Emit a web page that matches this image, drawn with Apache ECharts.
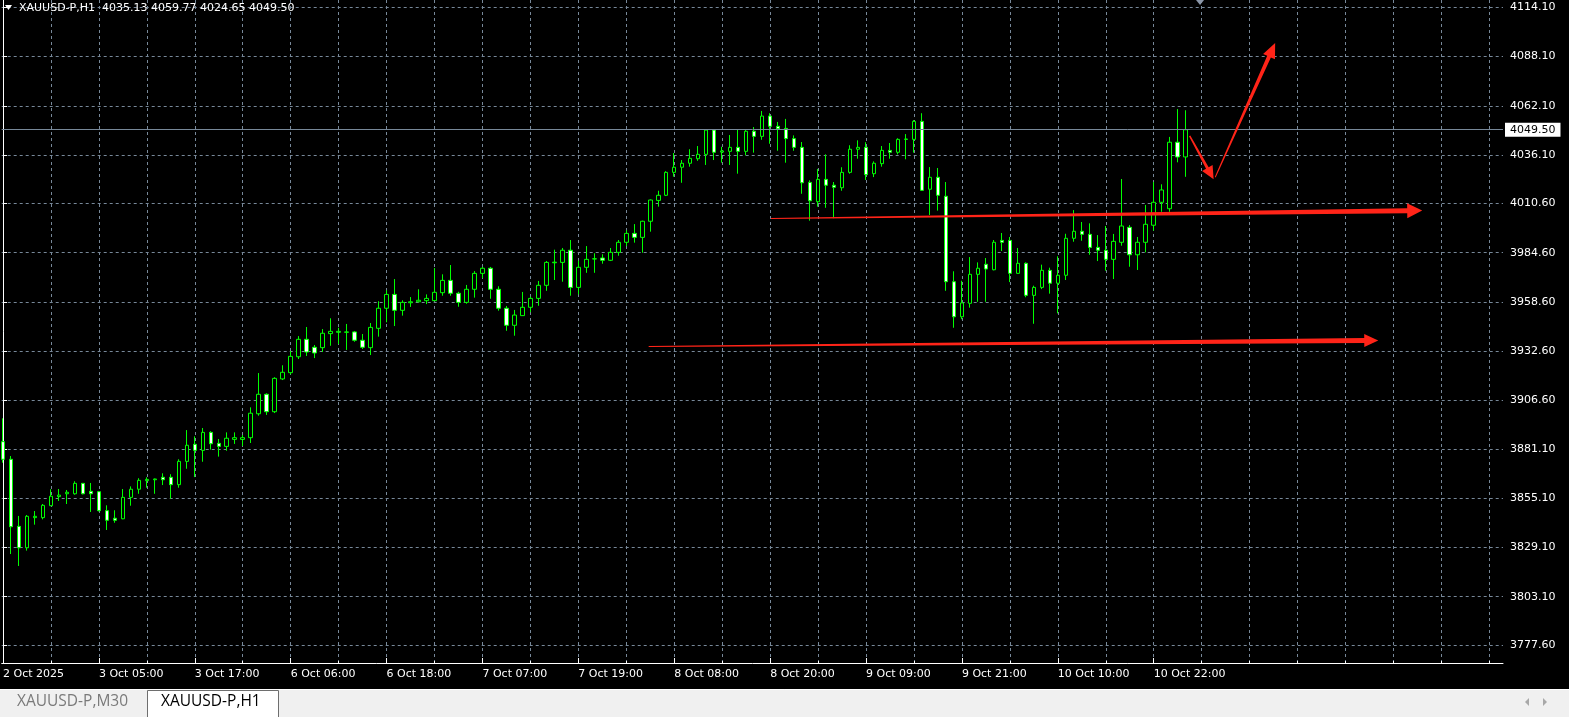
<!DOCTYPE html>
<html><head><meta charset="utf-8">
<script src="https://cdn.jsdelivr.net/npm/echarts@6/dist/echarts.min.js"></script>
<style>html,body{margin:0;padding:0;background:#000;overflow:hidden}#c{width:1569px;height:717px}</style>
</head><body><div id="c"></div><script>
// ---------- data ----------
const symbolTitle = 'XAUUSD-P,H1  4035.13 4059.77 4024.65 4049.50';
const opens = [3884.9,3875.6,3840.2,3828.9,3844.8,3844.8,3851.1,3855.9,3857.4,3857.4,3862.9,3858.7,3858.5,3848.5,3844.5,3844.2,3855.5,3859.8,3864.3,3864.8,3866.1,3866.1,3862.2,3874.5,3883.5,3880.3,3889.8,3884.0,3882.4,3886.1,3886.1,3887.0,3899.6,3909.9,3900.7,3918.0,3921.3,3929.7,3938.9,3934.7,3934.5,3941.9,3942.6,3942.6,3942.8,3938.4,3934.5,3944.7,3955.3,3962.6,3954.2,3958.2,3958.7,3959.3,3959.3,3963.5,3970.0,3963.2,3958.4,3965.3,3973.7,3976.4,3965.3,3955.3,3946.3,3951.4,3955.8,3960.5,3967.4,3979.3,3979.5,3985.9,3966.3,3976.9,3981.3,3981.8,3980.6,3984.8,3990.1,3994.8,3992.7,4001.2,4012.2,4014.9,4027.0,4029.7,4031.8,4034.2,4036.5,4049.3,4037.7,4038.1,4040.2,4038.1,4048.7,4046.0,4056.7,4051.3,4050.2,4044.8,4040.2,4021.7,4011.5,4023.3,4020.2,4018.9,4027.0,4039.2,4040.2,4026.3,4031.6,4038.6,4037.6,4044.4,4044.4,4053.9,4018.1,4024.4,4014.4,3969.3,3950.8,3957.9,3973.2,3978.5,3975.6,3991.1,3991.1,3973.7,3979.0,3962.1,3966.3,3975.3,3968.5,3972.7,3992.2,3995.9,3994.3,3987.4,3985.9,3981.1,3990.1,3998.0,3983.5,3990.1,3999.1,4011.2,4007.8,4042.9,4035.13];
const closes = [3875.6,3840.0,3828.9,3845.5,3845.5,3851.3,3856.1,3856.7,3858.2,3862.9,3857.4,3857.4,3848.5,3843.4,3843.4,3855.5,3859.8,3864.5,3865.0,3865.2,3864.8,3862.2,3874.5,3883.0,3880.3,3889.8,3883.8,3882.4,3886.7,3887.0,3887.0,3899.9,3909.9,3900.7,3918.3,3921.5,3929.9,3938.9,3932.2,3931.7,3942.1,3943.1,3943.1,3942.8,3938.4,3934.7,3945.2,3955.3,3962.6,3954.2,3958.4,3958.7,3959.5,3960.5,3963.7,3970.0,3963.2,3958.4,3965.3,3973.7,3976.4,3965.3,3955.3,3946.3,3951.7,3955.8,3960.5,3967.4,3979.5,3979.6,3985.9,3966.3,3976.9,3981.1,3981.4,3980.6,3984.8,3990.1,3994.8,3992.7,4001.2,4012.4,4014.9,4027.0,4029.7,4031.8,4034.4,4036.5,4049.3,4037.6,4038.3,4040.2,4038.1,4048.7,4046.0,4056.7,4051.3,4050.0,4044.8,4040.2,4021.5,4012.0,4023.3,4020.2,4019.1,4027.0,4039.2,4040.2,4025.8,4031.8,4038.6,4037.6,4044.4,4044.6,4053.9,4017.5,4024.4,4014.9,3969.3,3950.8,3958.1,3973.2,3976.4,3976.0,3990.1,3990.1,3973.7,3979.0,3962.1,3966.3,3975.3,3968.5,3972.7,3992.2,3995.9,3994.3,3987.4,3985.9,3981.1,3990.6,3998.7,3983.5,3990.1,3999.6,4011.2,4017.7,4042.9,4035.1,4049.50];
const lows = [3873.8,3825.6,3819.3,3827.4,3841.1,3843.9,3850.9,3853.6,3852.0,3856.9,3857.1,3847.8,3848.1,3838.3,3842.1,3844.0,3851.1,3857.4,3860.6,3857.4,3862.0,3854.8,3860.6,3870.6,3866.2,3874.3,3880.7,3877.0,3880.1,3883.7,3882.6,3884.2,3898.6,3899.0,3900.0,3917.4,3920.4,3928.5,3930.1,3929.0,3932.2,3935.5,3936.4,3933.3,3937.6,3933.8,3930.6,3940.3,3947.9,3945.9,3951.4,3956.0,3958.4,3957.5,3959.0,3961.9,3961.9,3956.1,3957.7,3960.9,3971.2,3960.3,3954.0,3943.4,3940.8,3951.2,3953.2,3956.6,3964.5,3970.2,3969.3,3961.9,3962.6,3974.0,3974.0,3978.8,3980.2,3983.0,3988.1,3989.9,3984.6,3995.7,4008.9,4014.5,4024.7,4021.5,4030.0,4033.1,4030.9,4033.5,4032.1,4030.9,4026.3,4036.0,4037.4,4044.2,4042.1,4038.4,4032.1,4038.4,4015.7,4001.5,4008.9,4008.3,4002.8,4017.3,4026.3,4034.2,4023.0,4024.5,4030.0,4034.2,4036.5,4033.9,4037.4,4017.3,4004.5,4006.8,3964.5,3945.0,3949.5,3955.6,3958.7,3958.7,3975.3,3985.5,3969.1,3973.5,3961.1,3947.1,3965.4,3963.0,3952.6,3970.2,3990.4,3990.9,3983.5,3980.2,3975.1,3970.7,3988.3,3977.2,3975.5,3984.8,3996.2,4006.2,4006.2,4032.3,4024.65];
const highs = [3897.2,3877.3,3845.7,3846.2,3848.3,3852.0,3859.8,3859.9,3859.4,3864.0,3863.1,3863.1,3858.9,3851.3,3848.7,3859.9,3861.3,3865.6,3866.1,3865.4,3868.2,3867.7,3875.6,3891.0,3887.7,3892.1,3890.4,3886.3,3889.8,3889.8,3888.4,3903.0,3921.1,3910.4,3918.9,3925.2,3932.7,3940.6,3945.4,3935.9,3944.3,3950.0,3945.0,3947.0,3943.3,3941.7,3947.5,3959.0,3964.8,3970.7,3959.5,3961.2,3965.3,3962.6,3976.5,3973.2,3978.1,3964.0,3967.6,3974.9,3977.1,3977.1,3966.9,3956.5,3954.4,3963.9,3961.4,3969.7,3980.2,3986.2,3987.1,3991.3,3980.4,3988.1,3984.3,3983.8,3987.1,3991.3,3996.4,3999.7,4001.5,4012.7,4017.3,4027.6,4037.2,4033.5,4039.2,4040.9,4049.7,4049.7,4040.5,4046.7,4049.5,4049.3,4050.9,4059.4,4058.2,4053.6,4055.2,4046.5,4043.0,4022.8,4028.8,4036.5,4021.9,4029.7,4041.3,4043.9,4042.9,4032.8,4040.9,4042.5,4045.0,4047.2,4054.6,4058.2,4029.8,4029.3,4021.9,3974.8,3969.8,3982.3,3979.5,3981.8,3991.3,3995.0,3992.9,3987.1,3979.5,3967.2,3978.3,3976.7,3982.7,3994.6,4007.1,4000.8,4000.1,3993.9,3998.7,3994.5,4023.5,3999.2,3992.9,4009.8,4021.9,4020.7,4045.7,4060.4,4059.77];
// time-axis labels (bar index -> label)
const xLabelIdx = [0,12,24,36,48,60,72,84,96,108,120,132,144];
const xLabels = ['2 Oct 2025','3 Oct 05:00','3 Oct 17:00','6 Oct 06:00','6 Oct 18:00','7 Oct 07:00','7 Oct 19:00','8 Oct 08:00','8 Oct 20:00','9 Oct 09:00','9 Oct 21:00','10 Oct 10:00','10 Oct 22:00'];
const xGridIdx = [0,6,12,18,24,30,36,42,48,54,60,66,72,78,84,90,96,102,108,114,120,126,132,138,144,150,156,162,168,174,180,186];
const yTicks = [4114.10,4088.10,4062.10,4036.10,4010.60,3984.60,3958.60,3932.60,3906.60,3881.10,3855.10,3829.10,3803.10,3777.60];
const bidPrice = 4049.50;
const shiftIdx = 149.8;
const tabLabels = ['XAUUSD-P,M30','XAUUSD-P,H1'];
// hand-drawn arrows: [fromIndex, fromPrice] -> [toIndex, toPrice]
const arrowFrom = [[96.1,4002.6],[80.8,3935.1],[148.5,4046.2],[151.7,4024.4]];
const arrowTo   = [[177.6,4006.9],[172.1,3938.3],[151.5,4023.3],[159.2,4095.3]];

// ---------- layout / style ----------
const FONT = 'DejaVu Sans';
const GREEN = '#00ff00';
const GRIDC = '#778899';
const PLOT = {left:0, top:0, width:1503, height:663};
const arrowStyle = [{w0:1,w1:5,hw:15,hl:15},{w0:1,w1:5,hw:13,hl:14},{w0:1.5,w1:3,hw:12,hl:13},{w0:1,w1:4,hw:13,hl:15}];

const candleData = opens.map((o,i)=>[i,o,closes[i],lows[i],highs[i]]);
const xMin = -1.3/8, xMax = xMin + PLOT.width/8;

const chart = echarts.init(document.getElementById('c'), null, {renderer:'canvas'});
const option = {
  backgroundColor:'#000',
  animation:false,
  grid:{left:PLOT.left, top:PLOT.top, width:PLOT.width, height:PLOT.height, containLabel:false},
  xAxis:[{
    type:'value', min:xMin, max:xMax, position:'bottom',
    axisLine:{show:true, onZero:false, lineStyle:{color:'#fff', width:1}},
    axisTick:{show:true, inside:true, length:2, customValues:xGridIdx, lineStyle:{color:'#fff'}},
    axisLabel:{show:false},
    splitLine:{show:true, lineStyle:{color:GRIDC, type:[3,3], width:1}}
  },{
    type:'value', min:xMin, max:xMax, position:'bottom',
    axisLine:{show:false},
    axisTick:{show:true, inside:true, length:5, customValues:xLabelIdx, lineStyle:{color:'#fff'}},
    axisLabel:{show:true, customValues:xLabelIdx, align:'left', margin:6, color:'#fff', fontFamily:FONT, fontSize:11,
      formatter:(v)=>{const k=xLabelIdx.indexOf(Math.round(v)); return k>=0?xLabels[k]:'';}},
    splitLine:{show:false}
  }],
  yAxis:{
    type:'value', min:3768.1, max:4117.95, position:'right',
    axisLine:{show:true, lineStyle:{color:'#fff', width:1}},
    axisTick:{show:true, inside:false, length:4, customValues:yTicks, lineStyle:{color:'#fff'}},
    axisLabel:{show:true, customValues:yTicks, margin:7, color:'#fff', fontFamily:FONT, fontSize:11,
      formatter:(v)=>v.toFixed(2)},
    splitLine:{show:true, lineStyle:{color:GRIDC, type:[3,3], width:1}}
  },
  series:[{
    type:'candlestick', xAxisIndex:0, yAxisIndex:0,
    encode:{x:0, y:[1,2,3,4]},
    data:candleData, barWidth:4, clip:true,
    itemStyle:{color:'#000', color0:'#fff', borderColor:GREEN, borderColor0:GREEN, borderColorDoji:GREEN, borderWidth:1},
    markLine:{
      silent:true, symbol:['none','none'], animation:false,
      lineStyle:{color:GRIDC, type:'solid', width:1},
      label:{show:true, position:'end', distance:2, formatter:bidPrice.toFixed(2), color:'#000', backgroundColor:'#fff',
        padding:[1,5,0,5], fontFamily:FONT, fontSize:11, lineHeight:13},
      emphasis:{disabled:true},
      data:[{yAxis:bidPrice}]
    }
  }]
};
chart.setOption(option);

function arrowPoly(a,b,s){
  const dx=b[0]-a[0], dy=b[1]-a[1], L=Math.hypot(dx,dy), ux=dx/L, uy=dy/L, nx=-uy, ny=ux;
  const nk=[b[0]-ux*s.hl, b[1]-uy*s.hl];
  return [[a[0]+nx*s.w0/2,a[1]+ny*s.w0/2],[nk[0]+nx*s.w1/2,nk[1]+ny*s.w1/2],[nk[0]+nx*s.hw/2,nk[1]+ny*s.hw/2],b,
          [nk[0]-nx*s.hw/2,nk[1]-ny*s.hw/2],[nk[0]-nx*s.w1/2,nk[1]-ny*s.w1/2],[a[0]-nx*s.w0/2,a[1]-ny*s.w0/2]];
}
const conv = p => chart.convertToPixel({xAxisIndex:0, yAxisIndex:0}, p);
const g = [];
arrowFrom.forEach((f,i)=>{
  g.push({type:'polygon', shape:{points:arrowPoly(conv(f),conv(arrowTo[i]),arrowStyle[i])}, style:{fill:'#ff2418'}, z:50});
});
const sx = conv([shiftIdx, 4100])[0];
g.push({type:'polygon', shape:{points:[[sx-4,0],[sx+4,0],[sx,5]]}, style:{fill:'#8a96a8'}, z:50});
// title
g.push({type:'polygon', shape:{points:[[5,5],[12,5],[8.5,10]]}, style:{fill:'#fff'}, z:50});
g.push({type:'text', x:19, y:8, style:{text:symbolTitle, fill:'#fff', font:'11px "DejaVu Sans"', verticalAlign:'middle'}, z:50});
// bottom tab strip
g.push({type:'rect', shape:{x:0,y:689,width:1569,height:28}, style:{fill:'#f0f0f0'}, z:40});
g.push({type:'line', shape:{x1:0,y1:689.5,x2:1569,y2:689.5}, style:{stroke:'#ffffff', lineWidth:1}, z:41});
g.push({type:'rect', shape:{x:147.5,y:690.5,width:131,height:27}, style:{fill:'#fff', stroke:'#6e6e6e', lineWidth:1}, z:42});
g.push({type:'text', x:17, y:702, style:{text:tabLabels[0], fill:'#7a7a7a', font:'15.5px "Open Sans"', verticalAlign:'middle'}, z:43});
g.push({type:'text', x:161, y:702, style:{text:tabLabels[1], fill:'#000', font:'15.5px "Open Sans"', verticalAlign:'middle'}, z:43});
g.push({type:'polygon', shape:{points:[[1529,698],[1529,706],[1525,702]]}, style:{fill:'#a8a8a8'}, z:43});
g.push({type:'polygon', shape:{points:[[1543,698],[1543,706],[1547,702]]}, style:{fill:'#a8a8a8'}, z:43});
chart.setOption({graphic:{elements:g}});
</script></body></html>
